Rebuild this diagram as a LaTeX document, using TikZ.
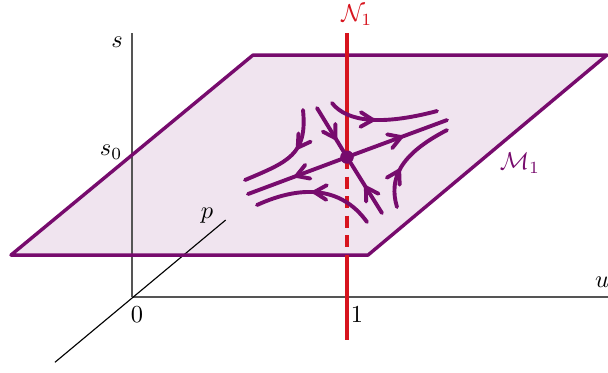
\documentclass[tikz,border=0pt]{standalone}
\usepackage{amssymb,amsmath}
\usepackage{tikz}
\usetikzlibrary{arrows.meta,decorations.markings}

\begin{document}
\begin{tikzpicture}[font=\normalsize]

\definecolor{mfpurple}{HTML}{770B6D}
\definecolor{mfsheet}{HTML}{F0E4EF}
\definecolor{mfred}{HTML}{D7141E}
\definecolor{mfaxis}{HTML}{555555}

\tikzset{
  axisline/.style={draw=mfaxis, line width=0.6pt},
  depthline/.style={draw=black, line width=0.45pt},
  sheetedge/.style={draw=mfpurple, line width=1.4pt, line join=round},
  fibre/.style={draw=mfred, line width=1.4pt},
  orbit/.style={draw=mfpurple, line width=1.6pt, line cap=round},
  flowat/.style={postaction={decorate}, decoration={markings,
    mark=at position #1 with {\arrow{Straight Barb[length=5pt,width=6pt,round]}}}},
  saddle/.style={circle, fill=mfpurple, minimum size=1.9mm, inner sep=0pt}
}

\useasboundingbox (-1.902,-1.081) rectangle (6.859,4.280);

% Axes and the slow manifold s = s_0.
\coordinate (O)      at (0,0);
\coordinate (stop)   at (0,3.80);
\coordinate (uend)   at (6.86,0);
\coordinate (pfront) at (-1.11,-0.94);
\coordinate (pback)  at (1.35,1.11);

\coordinate (m1) at (-1.744,0.605);
\coordinate (m2) at (3.401,0.605);
\coordinate (m3) at (6.844,3.487);
\coordinate (m4) at (1.744,3.487);

\fill[mfsheet] (m1) -- (m2) -- (m3) -- (m4) -- cycle;
\draw[axisline]  (O) -- (stop);
\draw[axisline]  (O) -- (uend);
\draw[depthline] (pfront) -- (pback);
\draw[sheetedge] (m1) -- (m2) -- (m3) -- (m4) -- cycle;

\node (slab)  at (-0.216,3.674) {$s$};
\node (s0lab) at (-0.300,2.090) {$s_0$};
\node (ulab)  at (6.775,0.216)  {$u$};
\node (plab)  at (1.080,1.170)  {$p$};
\node (zlab)  at (0.072,-0.260) {$0$};
\node (olab)  at (3.240,-0.260) {$1$};
\node[text=mfpurple] (mlab) at (5.590,1.930) {$\mathcal{M}_1$};

% Fibre N_1 through the saddle.
\node[saddle] (q) at (3.098,2.017) {};
\coordinate (ntop)  at (3.098,3.804);
\coordinate (nedge) at (3.098,0.605);
\coordinate (nbot)  at (3.098,-0.620);
\node[text=mfred, inner sep=0pt] (nlab) at (3.240,4.060) {$\mathcal{N}_1$};

\draw[fibre] (ntop) -- (q.center);
\draw[fibre, dash pattern=on 5pt off 3pt] (q.center) -- (nedge);
\draw[fibre] (nedge) -- (nbot);

% Flow on M_1 near the saddle.
\coordinate (ul) at (1.671,1.484);
\coordinate (ur) at (4.539,2.550);
\coordinate (st) at (2.666,2.723);
\coordinate (sb) at (3.602,1.210);

\draw[orbit, flowat=0.53] (q.center) -- (ul);
\draw[orbit, flowat=0.56] (q.center) -- (ur);
\draw[orbit, flowat=0.65] (st) -- (q.center);
\draw[orbit, flowat=0.49] (sb) -- (q.center);

\coordinate (a1) at (2.464,2.695);  \coordinate (b1) at (1.628,1.686);
\coordinate (a2) at (2.882,2.795);  \coordinate (b2) at (4.395,2.680);
\coordinate (a3) at (3.818,1.297);  \coordinate (b3) at (4.539,2.406);
\coordinate (a4) at (3.386,1.081);  \coordinate (b4) at (1.801,1.326);

\draw[orbit, flowat=0.40] (a1) .. controls (2.53,2.05) and (2.25,1.95) .. (b1);
\draw[orbit, flowat=0.43] (a2) .. controls (3.10,2.52) and (3.60,2.47) .. (b2);
\draw[orbit, flowat=0.39] (a3) .. controls (3.70,1.70) and (3.85,2.05) .. (b3);
\draw[orbit, flowat=0.53] (a4) .. controls (3.00,1.62) and (2.40,1.60) .. (b4);

\node[saddle] at (q) {};

\end{tikzpicture}
\end{document}
